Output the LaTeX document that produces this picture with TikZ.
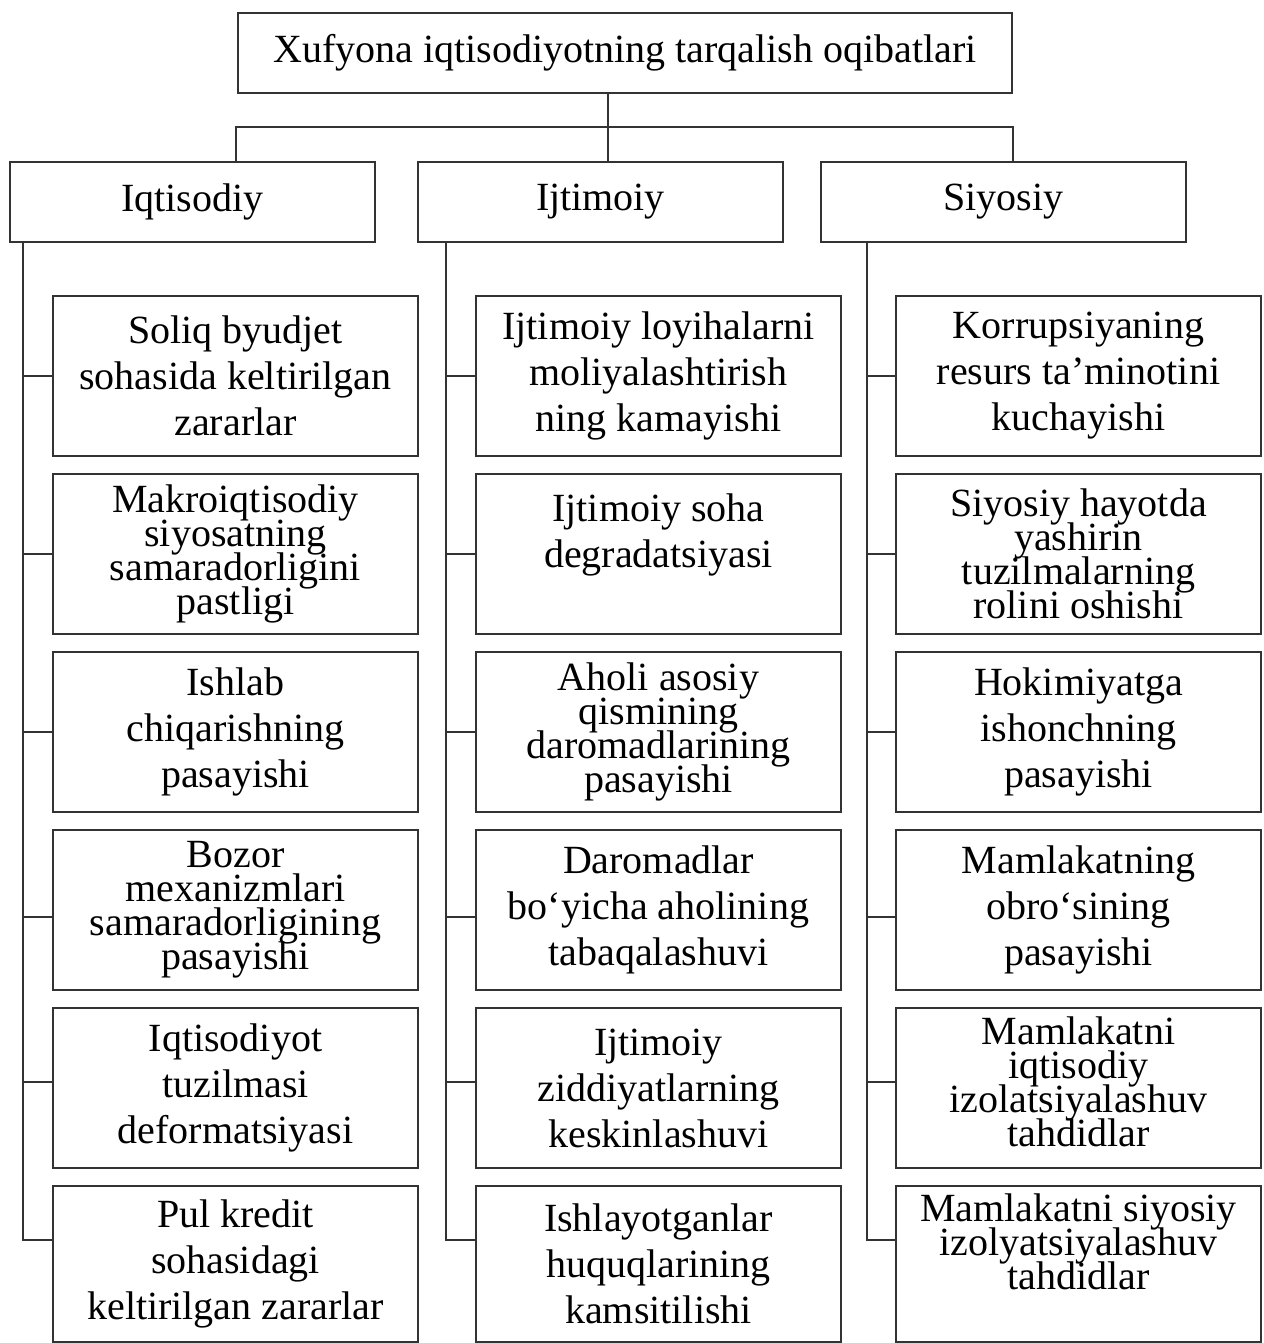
\documentclass[tikz,border=0pt]{standalone}
\usepackage{fontspec}
\setmainfont{Liberation Serif}
\usetikzlibrary{calc}
\newcommand\tightfont{\fontsize{20}{17}\selectfont\lineskiplimit=-20pt\relax}

\begin{document}
\begin{tikzpicture}[x=0.5pt, y=-0.5pt,
	box/.style={draw=black!80, line width=1pt, inner sep=0pt, align=center, minimum width=182.5pt, minimum height=80pt, font=\fontsize{20}{23}\selectfont},
	headbox/.style={box, minimum height=40pt},
	tight/.style={font=\tightfont},
	link/.style={draw=black!80, line width=1pt}]
	\useasboundingbox (0,0) rectangle (1263,1343);
	\node[headbox, minimum width=387pt] (top) at (625,53) {Xufyona iqtisodiyotning tarqalish oqibatlari};
	\node[headbox] (iqt) at (192.5,202) {Iqtisodiy};
	\node[headbox] (ijt) at (600.5,202) {Ijtimoiy};
	\node[headbox] (siy) at (1003.5,202) {Siyosiy};
	\coordinate (bus) at (608,127);
	\coordinate (busl) at (236,127);
	\coordinate (busr) at (1013,127);
	\coordinate (tl) at (23,0);
	\coordinate (tm) at (446,0);
	\coordinate (tr) at (867,0);
	\draw[link] (top.south -| bus) -- (ijt.north -| bus);
	\draw[link] (busl |- iqt.north) -- (busl) -- (busr) -- (busr |- siy.north);
	\node[box] (i1) at (235.5,376) {Soliq byudjet\\sohasida keltirilgan\\zararlar};
	\node[box, tight] (i2) at (235.5,554) {Makroiqtisodiy\\siyosatning\\samaradorligini\\pastligi};
	\node[box] (i3) at (235.5,732) {Ishlab\\chiqarishning\\pasayishi};
	\node[box, tight] (i4) at (235.5,910) {Bozor\\mexanizmlari\\samaradorligining\\pasayishi};
	\node[box] (i5) at (235.5,1088) {Iqtisodiyot\\tuzilmasi\\deformatsiyasi};
	\node[box, minimum height=78pt] (i6) at (235.5,1264) {Pul kredit\\sohasidagi\\keltirilgan zararlar};
	\node[box] (j1) at (658.5,376) {Ijtimoiy loyihalarni\\moliyalashtirish\\ning kamayishi};
	\node[box] (j2) at (658.5,554) {Ijtimoiy soha\\degradatsiyasi\\~};
	\node[box, tight] (j3) at (658.5,732) {Aholi asosiy\\qismining\\daromadlarining\\pasayishi};
	\node[box] (j4) at (658.5,910) {Daromadlar\\bo‘yicha aholining\\tabaqalashuvi};
	\node[box] (j5) at (658.5,1088) {Ijtimoiy\\ziddiyatlarning\\keskinlashuvi};
	\node[box, minimum height=78pt] (j6) at (658.5,1264) {Ishlayotganlar\\huquqlarining\\kamsitilishi};
	\node[box] (s1) at (1078.5,376) {Korrupsiyaning\\resurs ta’minotini\\kuchayishi};
	\node[box, tight] (s2) at (1078.5,554) {Siyosiy hayotda\\yashirin\\tuzilmalarning\\rolini oshishi};
	\node[box] (s3) at (1078.5,732) {Hokimiyatga\\ishonchning\\pasayishi};
	\node[box] (s4) at (1078.5,910) {Mamlakatning\\obro‘sining\\pasayishi};
	\node[box, tight] (s5) at (1078.5,1088) {Mamlakatni\\iqtisodiy\\izolatsiyalashuv\\tahdidlar\\[-11pt]~};
	\node[box, tight, minimum height=78pt] (s6) at (1078.5,1264) {Mamlakatni siyosiy\\izolyatsiyalashuv\\tahdidlar\\[5pt]~};
	\draw[link] (iqt.south -| tl) |- ([yshift=12pt]i6.west)
		(tl |- i1.west) -- (i1.west) (tl |- i2.west) -- (i2.west) (tl |- i3.west) -- (i3.west)
		([yshift=-3.5pt]i4.west -| tl) -- ([yshift=-3.5pt]i4.west) ([yshift=3pt]i5.west -| tl) -- ([yshift=3pt]i5.west);
	\draw[link] (ijt.south -| tm) |- ([yshift=12pt]j6.west)
		(tm |- j1.west) -- (j1.west) (tm |- j2.west) -- (j2.west) (tm |- j3.west) -- (j3.west)
		([yshift=-3.5pt]j4.west -| tm) -- ([yshift=-3.5pt]j4.west) ([yshift=3pt]j5.west -| tm) -- ([yshift=3pt]j5.west);
	\draw[link] (siy.south -| tr) |- ([yshift=12pt]s6.west)
		(tr |- s1.west) -- (s1.west) (tr |- s2.west) -- (s2.west) (tr |- s3.west) -- (s3.west)
		([yshift=-3.5pt]s4.west -| tr) -- ([yshift=-3.5pt]s4.west) ([yshift=3pt]s5.west -| tr) -- ([yshift=3pt]s5.west);
\end{tikzpicture}
\end{document}
